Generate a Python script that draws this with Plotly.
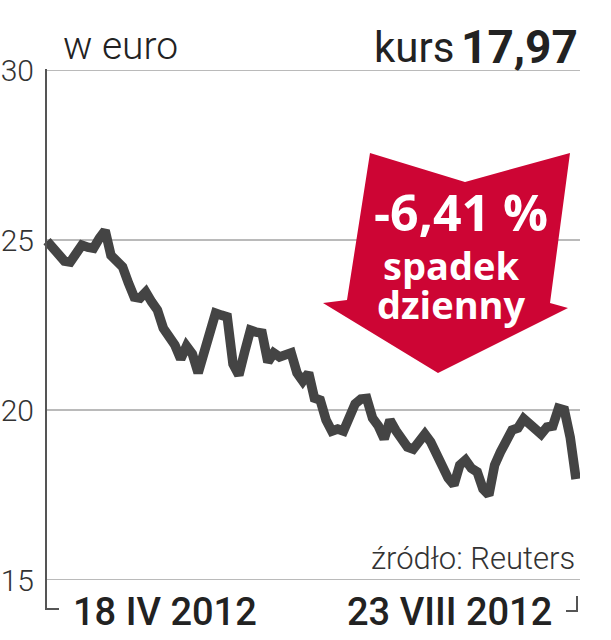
import plotly.graph_objects as go
import pandas as pd

# ---- data ----
dates = [d.strftime("%Y-%m-%d") for d in pd.bdate_range("2012-04-18", "2012-08-23")]
prices = [24.97, 24.79, 24.59, 24.38, 24.35, 24.62, 24.85, 24.79, 24.76, 25.05,
          25.28, 24.55, 24.41, 24.21, 23.74, 23.32, 23.29, 23.47, 23.18, 22.94,
          22.41, 22.18, 21.91, 21.5, 21.88, 21.65, 21.09, 21.68, 22.29, 22.85,
          22.79, 22.74, 21.35, 21.03, 21.71, 22.35, 22.29, 22.26, 21.41, 21.68,
          21.56, 21.59, 21.68, 21.09, 20.85, 21.09, 20.35, 20.29, 19.71, 19.38,
          19.44, 19.38, 19.88, 20.18, 20.32, 20.34, 19.76, 19.53, 19.15, 19.7,
          19.4, 19.18, 18.91, 18.85, 19.06, 19.29, 19.06, 18.65, 18.24, 18.0,
          17.8, 18.38, 18.53, 18.29, 18.18, 17.68, 17.5, 18.38, 18.76, 19.15,
          19.41, 19.47, 19.74, 19.59, 19.41, 19.29, 19.5, 19.53, 20.05, 20.0,
          19.2, 17.97]
y_ticks = [15, 20, 25, 30]
x_labels = ["18 IV 2012", "23 VIII 2012"]
unit_label = "w euro"
price_label = "kurs"
price_value = "17,97"
change_label = "-6,41 %"
change_text = ["spadek", "dzienny"]
source = "źródło: Reuters"

W, H = 611, 640
L, R, T, B = 40, 31, 70, 60
PW, PH = W - L - R, H - T - B


def xp(px):
    return (px - L) / PW


def yp(py):
    return (H - B - py) / PH


n = len(dates)
step = (576 - 47) / (n - 1)
x_range = [-(47 - L) / step, (n - 1) + (L + PW - 576) / step]

fig = go.Figure()
fig.add_trace(go.Scatter(
    x=dates, y=prices, mode="lines",
    line=dict(color="#444444", width=9.5),
    hoverinfo="x+y", showlegend=False,
))

shapes = []
for v in y_ticks:
    shapes.append(dict(type="line", xref="paper", yref="y",
                       x0=xp(46), x1=1, y0=v, y1=v,
                       line=dict(color="#a3a3a3", width=1.6), layer="below"))
# left bracket / axis line
shapes.append(dict(type="path", xref="paper", yref="paper",
                   path=f"M {xp(46)},{yp(69)} L {xp(46)},{yp(609)} L {xp(59)},{yp(609)}",
                   line=dict(color="#555555", width=2)))
# right bracket
shapes.append(dict(type="path", xref="paper", yref="paper",
                   path=f"M {xp(577)},{yp(596)} L {xp(577)},{yp(611)} L {xp(566)},{yp(611)}",
                   line=dict(color="#555555", width=2)))
# red arrow
pts = [(370, 153), (465, 182), (570, 153), (550, 303), (568, 308),
       (438, 373), (323, 303), (347, 300)]
path = "M " + " L ".join(f"{xp(a)},{yp(b)}" for a, b in pts) + " Z"
shapes.append(dict(type="path", xref="paper", yref="paper", path=path,
                   fillcolor="#cd0534", line=dict(width=0), layer="above"))

ann = []
base = dict(xref="paper", yref="paper", showarrow=False)
ann.append(dict(base, text=unit_label, x=xp(61), y=yp(46), xanchor="left", yanchor="middle",
                font=dict(family="Roboto", size=39, color="#222222", weight=300)))
ann.append(dict(base, text=price_label, x=xp(456), y=yp(48), xanchor="right", yanchor="middle",
                font=dict(family="Roboto", size=42, color="#222222", weight=400)))
ann.append(dict(base, text=price_value, x=xp(580), y=yp(47), xanchor="right", yanchor="middle",
                font=dict(family="Roboto", size=46, color="#222222", weight=700)))
ann.append(dict(base, text=change_label, x=xp(461), y=yp(212), xanchor="center", yanchor="middle",
                font=dict(family="Open Sans", size=50, color="white", weight=700)))
ann.append(dict(base, text=change_text[0], x=xp(451), y=yp(265), xanchor="center", yanchor="middle",
                font=dict(family="Open Sans", size=38, color="white", weight=700)))
ann.append(dict(base, text=change_text[1], x=xp(451), y=yp(304), xanchor="center", yanchor="middle",
                font=dict(family="Open Sans", size=38, color="white", weight=700)))
ann.append(dict(base, text=source, x=xp(577), y=yp(558), xanchor="right", yanchor="middle",
                font=dict(family="Roboto", size=31, color="#333333", weight=300)))
ann.append(dict(base, text=x_labels[0], x=xp(165), y=yp(612), xanchor="center", yanchor="middle",
                font=dict(family="Roboto", size=38, color="#222222", weight=500)))
ann.append(dict(base, text=x_labels[1], x=xp(449), y=yp(612), xanchor="center", yanchor="middle",
                font=dict(family="Roboto", size=38, color="#222222", weight=500)))

fig.update_layout(
    width=W, height=H,
    margin=dict(l=L, r=R, t=T, b=B, autoexpand=False),
    paper_bgcolor="white", plot_bgcolor="white",
    xaxis=dict(type="category", range=x_range, showgrid=False, showline=False,
               zeroline=False, showticklabels=False, ticks=""),
    yaxis=dict(range=[y_ticks[0], y_ticks[-1]], tickvals=y_ticks,
               ticktext=[str(v) for v in y_ticks], showgrid=False, zeroline=False,
               showline=False, ticks="", ticklabelstandoff=5,
               tickfont=dict(family="Roboto", size=30, color="#333333", weight=300)),
    shapes=shapes, annotations=ann,
)

fig.write_html("out.html", config={"displayModeBar": False},
               post_script="document.body.style.margin='0';document.body.style.overflow='hidden';")
